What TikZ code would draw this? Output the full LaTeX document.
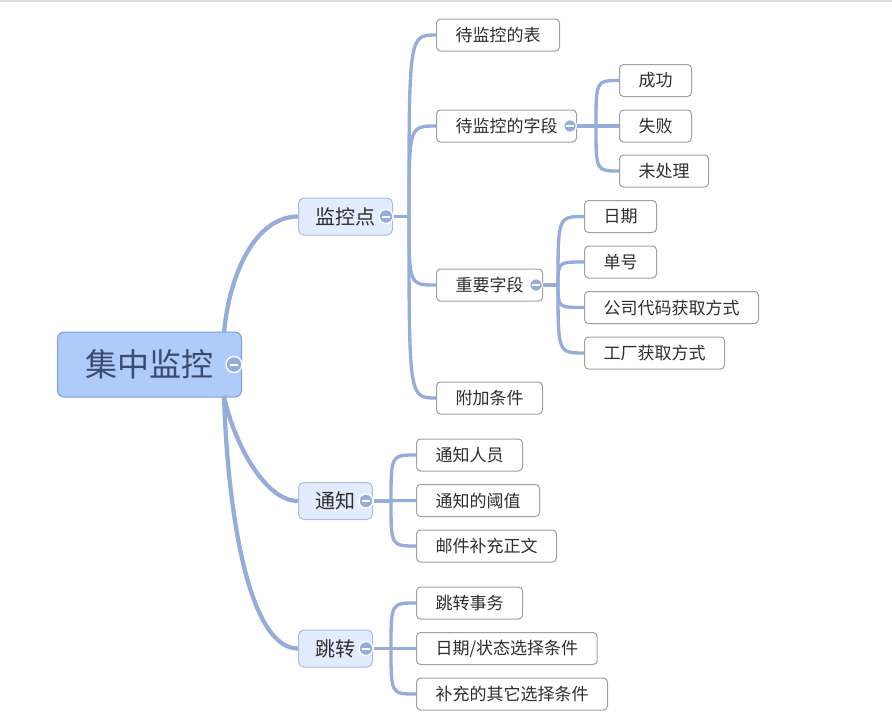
\documentclass[tikz,border=0pt]{standalone}
\usepackage{fontspec}
\setmainfont{Noto Sans CJK SC}

\definecolor{linkc}{HTML}{96ACDB}
\definecolor{leafline}{HTML}{A0A0A0}
\definecolor{leaftext}{HTML}{2E2E2E}
\definecolor{topicfill}{HTML}{E3ECFD}
\definecolor{topicline}{HTML}{A6BDEB}
\definecolor{rootfill}{HTML}{AECBFA}
\definecolor{rootline}{HTML}{7C9DDF}
\definecolor{roottext}{HTML}{3C4A6E}
\definecolor{topbar}{HTML}{DCDCE4}

\tikzset{every picture/.style={line width=0.75pt}}
\tikzset{
  leaf/.style={draw=leafline, fill=white, rounded corners=3pt, text=leaftext,
    font=\fontsize{12.75}{15}\selectfont, minimum height=24pt, inner xsep=14.25pt, anchor=west},
  topic/.style={draw=topicline, fill=topicfill, rounded corners=4pt, text=leaftext,
    font=\fontsize{15}{18}\selectfont, minimum height=27.75pt, inner xsep=12.75pt, anchor=west},
  central/.style={draw=rootline, fill=rootfill, rounded corners=5pt, text=roottext,
    font=\fontsize{24}{28}\selectfont, minimum height=48.75pt, inner xsep=21pt, anchor=west},
  link/.style={draw=linkc, line width=2.5pt},
  trunk/.style={draw=linkc, line width=3.2pt},
  fold/.style={circle, draw=white, fill=linkc, line width=1pt, inner sep=0pt, minimum size=#1,
    path picture={\draw[white, line width=1.5pt]
      ([xshift=-2.8pt]path picture bounding box.center) -- ([xshift=2.8pt]path picture bounding box.center);}},
  fold/.default=10.5pt
}

\begin{document}
\begin{tikzpicture}[x=0.75pt,y=0.75pt,yscale=-1,xscale=1]
\useasboundingbox (0,0) rectangle (892,722);

% grey rule along the top edge
\draw[topbar, line width=1.5pt] (0,1) -- (892,1);

% central topic
\node[central] (root) at (57,364.5) {集中监控};
\coordinate (rup) at (224,333);
\coordinate (rdn) at (224,396);

% main branches
\node[topic] (mon) at (298,216.5) {监控点};
\node[topic] (tz) at (298,501) {通知};
\node[topic] (jz) at (298,648.5) {跳转};

\draw[trunk] (rup) .. controls (229,275) and (255,216.5) .. (mon.west);
\draw[trunk] (rdn) .. controls (232,437) and (263,501) .. (tz.west);
\draw[trunk] (rdn) .. controls (228,520) and (250,648.5) .. (jz.west);

% under the monitoring point
\node[leaf] (tbl) at (436,35) {待监控的表};
\node[leaf] (fld) at (436,126) {待监控的字段};
\node[leaf] (key) at (436,285) {重要字段};
\node[leaf] (cond) at (436,398) {附加条件};

% field states
\node[leaf] (ok) at (619,80.5) {成功};
\node[leaf] (fail) at (619,126) {失败};
\node[leaf] (todo) at (619,171) {未处理};

% key fields
\node[leaf] (date) at (584,216.5) {日期};
\node[leaf] (docno) at (584,262) {单号};
\node[leaf] (corp) at (584,307.5) {公司代码获取方式};
\node[leaf] (plant) at (584,353) {工厂获取方式};

% notification
\node[leaf] (who) at (416,455) {通知人员};
\node[leaf] (lim) at (416,500.5) {通知的阈值};
\node[leaf] (mail) at (416,546) {邮件补充正文};

% jump
\node[leaf] (tx) at (416,603) {跳转事务};
\node[leaf] (sel) at (416,648.5) {日期/状态选择条件};
\node[leaf] (more) at (416,694) {补充的其它选择条件};

% fold buttons
\node[fold=12pt] (froot) at (234,364.5) {};
\node[fold] (fmon) at (386,216.5) {};
\node[fold] (ftz) at (366,501) {};
\node[fold] (fjz) at (366,648.5) {};
\node[fold=9.5pt] (ffld) at (570,126) {};
\node[fold=9.5pt] (fkey) at (536,285) {};

% branch junctions
\coordinate (jmon) at (409,216.5);
\coordinate (jfld) at (596,126);
\coordinate (jkey) at (558,285);
\coordinate (jtz) at (391,501);
\coordinate (jjz) at (391,648.5);

\draw[link] (fmon.east) -- (jmon);
\foreach \c in {tbl,fld,key,cond}
  \draw[link] (jmon) .. controls (jmon |- \c.west) .. (\c.west);

\draw[link] (ffld.east) -- (jfld);
\foreach \c in {ok,fail,todo}
  \draw[link] (jfld) .. controls (jfld |- \c.west) .. (\c.west);

\draw[link] (fkey.east) -- (jkey);
\foreach \c in {date,docno,corp,plant}
  \draw[link] (jkey) .. controls (jkey |- \c.west) .. (\c.west);

\draw[link] (ftz.east) -- (jtz);
\foreach \c in {who,lim,mail}
  \draw[link] (jtz) .. controls (jtz |- \c.west) .. (\c.west);

\draw[link] (fjz.east) -- (jjz);
\foreach \c in {tx,sel,more}
  \draw[link] (jjz) .. controls (jjz |- \c.west) .. (\c.west);

\end{tikzpicture}
\end{document}
